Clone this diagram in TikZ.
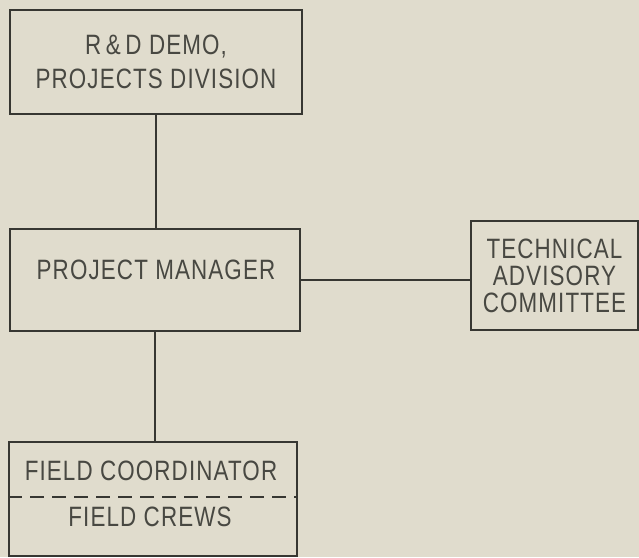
\documentclass[tikz,border=0pt]{standalone}
\usepackage{fontspec}
\newfontfamily\chartfont{Liberation Sans}[FakeStretch=0.8, LetterSpace=4]
\usepackage{tikz}
\usetikzlibrary{positioning, calc}
\definecolor{paper}{RGB}{224,220,205}
\definecolor{ink}{RGB}{55,55,50}
\definecolor{print}{RGB}{72,72,66}

\begin{document}
\begin{tikzpicture}[
  x=1pt, y=1pt,
  font=\chartfont\fontsize{28}{27}\selectfont,
  box/.style={rectangle, draw=ink, line width=1.5pt, align=center,
    text=print, inner sep=0pt},
  lbl/.style={text=print, inner sep=0pt, align=center},
  link/.style={draw=ink, line width=1.5pt}
]
\fill[paper] (0,0) rectangle (639,557);
\useasboundingbox (0,0) rectangle (639,557);
\node[box, minimum width=292pt, minimum height=104pt] (rnd) at (156,495)
  {R\,\&\,D DEMO,\\[7pt] PROJECTS DIVISION};
\node[box, minimum width=290pt, minimum height=102pt] (pm) at (155,277) {};
\node[lbl] (pmtext) at (156,287) {PROJECT MANAGER};
\node[box, minimum width=167pt, minimum height=109pt] (tac) at (554.5,281.5)
  {TECHNICAL\\ ADVISORY\\ COMMITTEE};
\node[box, minimum width=288pt, minimum height=114pt] (field) at (153,58) {};
\node[lbl] (coord) at (151,86) {FIELD COORDINATOR};
\node[lbl] (crews) at (150,40) {FIELD CREWS};
\coordinate (split) at (0,60);
\draw[link, dash pattern=on 14pt off 8pt] (field.west |- split) -- (field.east |- split);
\draw[link] (rnd.south) -- (rnd.south |- pm.north);
\draw[link] (pm.east) -- (tac.west |- pm.east);
\draw[link] (pm.south) -- (pm.south |- field.north);
\end{tikzpicture}
\end{document}
